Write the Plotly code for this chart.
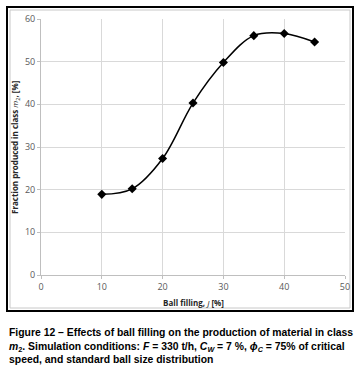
import plotly.graph_objects as go

ball_filling = [10, 15, 20, 25, 30, 35, 40, 45]
fraction_m2 = [18.9, 20.2, 27.3, 40.3, 49.8, 56.1, 56.6, 54.6]
x_ticks = [0, 10, 20, 30, 40, 50]
y_ticks = [0, 10, 20, 30, 40, 50, 60]

W, H = 364, 389
L, R, T, B = 41, 345, 19, 275
pw, ph = R - L, B - T

def px_x(x):
    return (x - L) / pw

def px_y(y):
    return (B - y) / ph

fig = go.Figure()
fig.add_trace(go.Scatter(
    x=ball_filling, y=fraction_m2, mode="lines+markers",
    line=dict(color="black", width=1.5, shape="spline", smoothing=1.0),
    marker=dict(symbol="diamond", size=7, color="black"),
    showlegend=False,
))

axis_common = dict(
    showgrid=True, gridcolor="#d9d9d9", gridwidth=1,
    showline=True, linecolor="#bfbfbf", linewidth=1,
    ticks="outside", ticklen=3, tickcolor="#bfbfbf",
    tickfont=dict(family="Open Sans, Liberation Sans, sans-serif", size=9, color="#595959"),
    zeroline=False, fixedrange=True,
)
fig.update_xaxes(range=[0, 50], tickvals=x_ticks, **axis_common)
fig.update_yaxes(range=[0, 60], tickvals=y_ticks, **axis_common)

shapes = [
    dict(type="rect", xref="paper", yref="paper",
         x0=px_x(7), x1=px_x(353), y0=px_y(311), y1=px_y(7),
         line=dict(color="black", width=2), layer="below"),
    dict(type="rect", xref="paper", yref="paper",
         x0=px_x(10), x1=px_x(350), y0=px_y(308), y1=px_y(10),
         line=dict(color="#c8c8c8", width=1), layer="below"),
]

title_font = dict(family="Open Sans, Liberation Sans, sans-serif", size=8, color="#262626")
cap_font = dict(family="Liberation Sans, Arial, sans-serif", size=10.4, color="black")

annotations = [
    dict(text="<b>Ball filling, </b><i>J</i><b> [%]</b>", xref="paper", yref="paper",
         x=px_x(193), y=px_y(302), xanchor="center", yanchor="middle",
         showarrow=False, font=title_font),
    dict(text="<b>Fraction produced in class </b><i>m</i><sub>2</sub><b>, [%]</b>",
         xref="paper", yref="paper", x=px_x(15), y=px_y(147),
         xanchor="center", yanchor="middle", textangle=-90,
         showarrow=False, font=title_font),
    dict(text=("<b>Figure 12 – Effects of ball filling on the production of material in class</b><br>"
               "<b><i>m</i><sub>2</sub>. Simulation conditions: <i>F</i> = 330 t/h, "
               "<i>C<sub>W</sub></i> = 7 %, <i>ϕ<sub>C</sub></i> = 75% of critical</b><br>"
               "<b>speed, and standard ball size distribution</b>"),
         xref="paper", yref="paper", x=px_x(7), y=px_y(325),
         xanchor="left", yanchor="top", align="left",
         showarrow=False, font=cap_font),
]

fig.update_layout(
    width=W, height=H,
    margin=dict(l=L, r=W - R, t=T, b=H - B, autoexpand=False),
    paper_bgcolor="white", plot_bgcolor="white",
    shapes=shapes, annotations=annotations,
)

fig.write_html("out.html", config={"displayModeBar": False},
               post_script="document.body.style.margin='0';document.body.style.padding='0';")
